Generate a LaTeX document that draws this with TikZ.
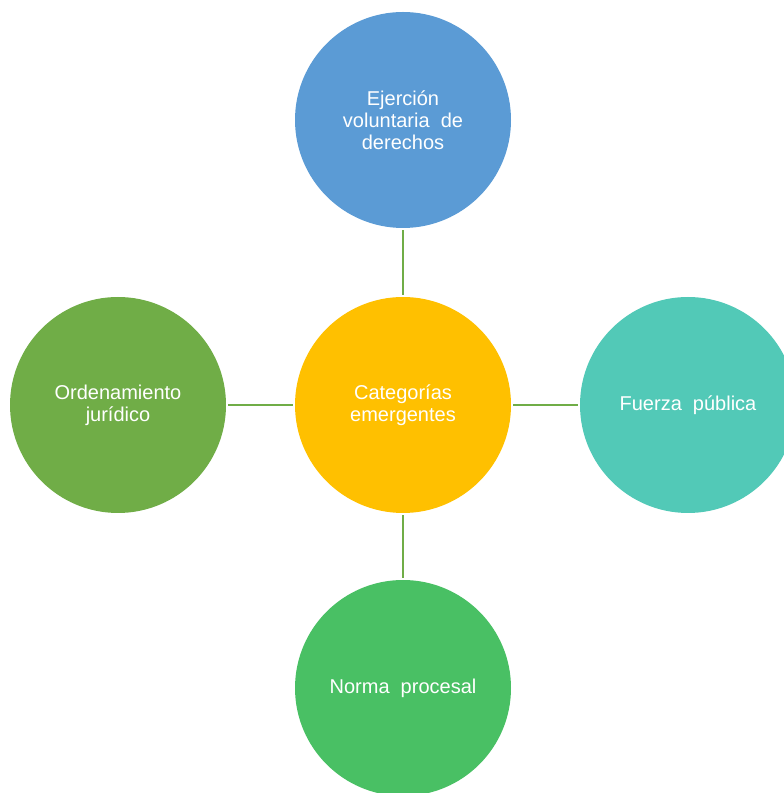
\documentclass[tikz,border=0pt]{standalone}
\usepackage{fontspec}
\setmainfont{Liberation Sans}
\definecolor{cblue}{HTML}{5B9BD5}
\definecolor{cgold}{HTML}{FFC000}
\definecolor{cgreen}{HTML}{70AD47}
\definecolor{cteal}{HTML}{52C9B7}
\definecolor{cgreen2}{HTML}{49C064}
\begin{document}
\begin{tikzpicture}[x=1pt,y=1pt,
  bubble/.style={circle,minimum size=216pt,inner sep=0pt,text=white,align=center,
    font=\fontsize{20}{22}\selectfont},
  link/.style={draw=cgreen,line width=2pt,shorten <=2pt,shorten >=2pt}]
\useasboundingbox (0,0) rectangle (784,793);
\node[bubble,fill=cgold] (c) at (403,388) {Categorías\\emergentes};
\node[bubble,fill=cblue] (t) at (403,673) {Ejerción\\voluntaria\ \ de\\derechos};
\node[bubble,fill=cgreen] (l) at (118,388) {Ordenamiento\\jurídico};
\node[bubble,fill=cteal] (r) at (688,388) {Fuerza\ \ pública};
\node[bubble,fill=cgreen2] (b) at (403,105) {Norma\ \ procesal};
\draw[link] (c) -- (t);
\draw[link] (c) -- (l);
\draw[link] (c) -- (r);
\draw[link] (c) -- (b);
\end{tikzpicture}
\end{document}
